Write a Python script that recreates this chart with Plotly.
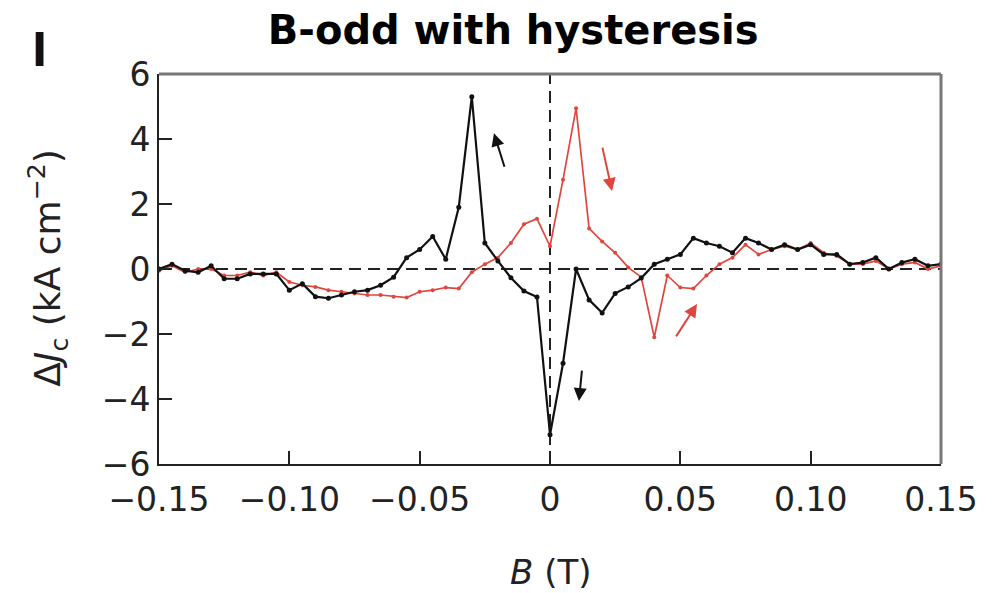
import plotly.graph_objects as go

B_values = [-0.150, -0.145, -0.140, -0.135, -0.130, -0.125, -0.120, -0.115, -0.110, -0.105,
            -0.100, -0.095, -0.090, -0.085, -0.080, -0.075, -0.070, -0.065, -0.060, -0.055,
            -0.050, -0.045, -0.040, -0.035, -0.030, -0.025, -0.020, -0.015, -0.010, -0.005,
            0.000, 0.005, 0.010, 0.015, 0.020, 0.025, 0.030, 0.035, 0.040, 0.045,
            0.050, 0.055, 0.060, 0.065, 0.070, 0.075, 0.080, 0.085, 0.090, 0.095,
            0.100, 0.105, 0.110, 0.115, 0.120, 0.125, 0.130, 0.135, 0.140, 0.145, 0.150]

dJc_black = [0.0, 0.15, -0.05, -0.1, 0.1, -0.3, -0.3, -0.15, -0.15, -0.15,
             -0.65, -0.45, -0.85, -0.9, -0.8, -0.7, -0.65, -0.5, -0.25, 0.35,
             0.6, 1.0, 0.3, 1.9, 5.3, 0.8, 0.25, -0.27, -0.68, -0.86,
             -5.1, -2.9, 0.0, -0.95, -1.35, -0.75, -0.55, -0.28, 0.15, 0.3,
             0.45, 0.95, 0.8, 0.7, 0.5, 0.95, 0.8, 0.6, 0.75, 0.6,
             0.75, 0.45, 0.45, 0.15, 0.2, 0.35, 0.0, 0.2, 0.3, 0.1, 0.15]

dJc_red = [-0.05, 0.1, -0.1, 0.0, 0.0, -0.2, -0.2, -0.1, -0.2, -0.1,
           -0.4, -0.5, -0.55, -0.65, -0.7, -0.75, -0.8, -0.8, -0.85, -0.88,
           -0.7, -0.65, -0.57, -0.6, -0.1, 0.15, 0.35, 0.8, 1.38, 1.55,
           0.7, 2.75, 4.95, 1.25, 0.85, 0.5, 0.05, -0.25, -2.1, -0.2,
           -0.57, -0.6, -0.2, 0.15, 0.35, 0.75, 0.45, 0.6, 0.7, 0.6,
           0.8, 0.5, 0.4, 0.15, 0.15, 0.25, 0.0, 0.15, 0.2, 0.0, 0.1]

x_ticks = [-0.15, -0.10, -0.05, 0, 0.05, 0.10, 0.15]
x_tick_labels = ["−0.15", "−0.10", "−0.05", "0", "0.05", "0.10", "0.15"]
y_ticks = [-6, -4, -2, 0, 2, 4, 6]

RED = "#e0463c"
INK = "#222222"
FONT = "DejaVu Sans, Liberation Sans, Arial, sans-serif"

fig = go.Figure()
fig.add_trace(go.Scatter(x=B_values, y=dJc_red, mode="lines+markers",
                         line=dict(color=RED, width=1.7),
                         marker=dict(color=RED, size=4), showlegend=False))
fig.add_trace(go.Scatter(x=B_values, y=dJc_black, mode="lines+markers",
                         line=dict(color="#111111", width=2.2),
                         marker=dict(color="#111111", size=5), showlegend=False))

# dashed zero lines
fig.add_shape(type="line", xref="x", yref="y", x0=-0.15, x1=0.15, y0=0, y1=0,
              line=dict(color=INK, width=2, dash="12px,7px"), layer="below")
fig.add_shape(type="line", xref="x", yref="y", x0=0, x1=0, y0=-6, y1=6,
              line=dict(color=INK, width=2, dash="12px,7px"), layer="below")
# gray top / right frame
fig.add_shape(type="line", xref="paper", yref="paper", x0=0, x1=1, y0=1, y1=1,
              line=dict(color="#777777", width=3))
fig.add_shape(type="line", xref="paper", yref="paper", x0=1, x1=1, y0=0, y1=1,
              line=dict(color="#777777", width=3))

arrows = [
    (-0.0173, 3.1, -0.0215, 4.18, "#111111"),
    (0.0123, -3.08, 0.0111, -4.06, "#111111"),
    (0.0200, 3.78, 0.0238, 2.40, RED),
    (0.0480, -2.12, 0.0564, -1.08, RED),
]
for tx, ty, hx, hy, col in arrows:
    fig.add_annotation(x=hx, y=hy, ax=tx, ay=ty, xref="x", yref="y", axref="x", ayref="y",
                       text="", showarrow=True, arrowhead=2, arrowsize=1.3, arrowwidth=2,
                       arrowcolor=col)

# panel letter
fig.add_annotation(text="<b>l</b>", xref="paper", yref="paper", x=-0.153, y=1.059,
                   xanchor="center", yanchor="middle", showarrow=False,
                   font=dict(family=FONT, size=44, color="#111111"))
# axis titles
fig.add_annotation(text="Δ<i>J</i><sub>c</sub> (kA cm<sup>−2</sup>)", xref="paper", yref="paper",
                   x=-0.142, y=0.503, xanchor="center", yanchor="middle", textangle=-90,
                   showarrow=False, font=dict(family=FONT, size=36, color=INK))
fig.add_annotation(text="<i>B</i> (T)", xref="paper", yref="paper",
                   x=0.5, y=-0.277, xanchor="center", yanchor="middle",
                   showarrow=False, font=dict(family=FONT, size=34, color=INK))

fig.update_layout(
    width=992, height=593,
    margin=dict(l=151, r=59, t=66, b=137),
    paper_bgcolor="white", plot_bgcolor="white",
    title=dict(text="<b>B-odd with hysteresis</b>", xref="paper", x=0.453, xanchor="center",
               yref="container", y=0.963, yanchor="middle",
               font=dict(family=FONT, size=40, color="black")),
    font=dict(family=FONT, color=INK),
    xaxis=dict(range=[-0.15, 0.15], tickvals=x_ticks, ticktext=x_tick_labels,
               ticks="inside", ticklen=13, tickwidth=2, tickcolor=INK,
               showline=True, linecolor=INK, linewidth=2, showgrid=False,
               zeroline=False, automargin=False, ticklabelstandoff=5,
               tickfont=dict(family=FONT, size=33, color=INK)),
    yaxis=dict(range=[-6, 6], tickvals=y_ticks,
               ticks="inside", ticklen=13, tickwidth=2, tickcolor=INK,
               showline=True, linecolor=INK, linewidth=2, showgrid=False,
               zeroline=False, automargin=False,
               tickfont=dict(family=FONT, size=33, color=INK)),
)

fig.write_html("out.html")
